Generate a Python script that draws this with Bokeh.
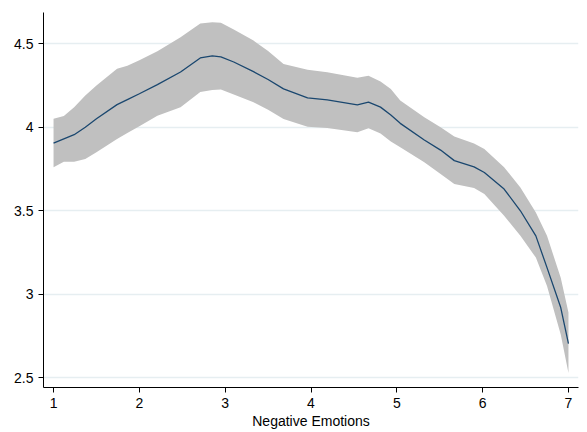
from bokeh.plotting import figure
from bokeh.models import ColumnDataSource, FixedTicker, Range1d, Title
from bokeh.embed import file_html
from bokeh.resources import INLINE

# Data (local polynomial fit with 95% CI)
neg_emotions = [1.0, 1.12, 1.24, 1.37, 1.5, 1.74, 1.86, 2.0, 2.21, 2.48, 2.71, 2.85,
                2.95, 3.1, 3.33, 3.5, 3.68, 3.96, 4.19, 4.54, 4.67, 4.81, 4.93, 5.04,
                5.32, 5.51, 5.67, 5.90, 6.02, 6.25, 6.44, 6.62, 6.75, 6.91, 7.0]
fit = [3.905, 3.93, 3.955, 4.0, 4.05, 4.135, 4.165, 4.2, 4.255, 4.33, 4.414, 4.426,
       4.42, 4.39, 4.332, 4.285, 4.229, 4.175, 4.163, 4.133, 4.15, 4.12, 4.073, 4.023,
       3.923, 3.863, 3.80, 3.763, 3.729, 3.63, 3.50, 3.35, 3.16, 2.921, 2.705]
ci_upper = [4.05, 4.067, 4.12, 4.19, 4.25, 4.35, 4.368, 4.40, 4.454, 4.538, 4.62, 4.628,
            4.624, 4.585, 4.518, 4.455, 4.378, 4.344, 4.328, 4.295, 4.308, 4.274, 4.229, 4.16,
            4.06, 4.0, 3.945, 3.903, 3.869, 3.76, 3.64, 3.49, 3.35, 3.10, 2.891]
ci_lower = [3.76, 3.793, 3.793, 3.81, 3.85, 3.93, 3.965, 4.005, 4.069, 4.12, 4.21, 4.223,
            4.225, 4.195, 4.149, 4.105, 4.049, 4.003, 3.995, 3.969, 3.993, 3.962, 3.915, 3.88,
            3.79, 3.72, 3.66, 3.636, 3.60, 3.47, 3.35, 3.22, 3.05, 2.76, 2.53]
x_ticks = [1, 2, 3, 4, 5, 6, 7]
y_ticks = [2.5, 3, 3.5, 4, 4.5]
x_title = "Negative Emotions"

src = ColumnDataSource(dict(x=neg_emotions, y=fit, lo=ci_lower, hi=ci_upper))

p = figure(width=587, height=432, output_backend="svg", toolbar_location=None,
           x_range=Range1d(0.883, 7.117), y_range=Range1d(2.443, 4.686),
           min_border_left=43, min_border_right=9, min_border_top=12, min_border_bottom=45)
p.outline_line_color = None
p.background_fill_color = "white"
p.border_fill_color = "white"

p.varea(x="x", y1="lo", y2="hi", source=src, fill_color="#C0C0C0", fill_alpha=1.0)
p.line(x="x", y="y", source=src, line_color="#1A476F", line_width=1.3)

FONT = "Liberation Sans"
for ax in (p.xaxis[0], p.yaxis[0]):
    ax.axis_line_color = "black"
    ax.axis_line_width = 1
    ax.major_tick_line_color = "black"
    ax.major_tick_in = 0
    ax.major_tick_out = 5
    ax.minor_tick_line_color = None
    ax.major_label_text_font = FONT
    ax.major_label_text_font_size = "14px"
    ax.major_label_text_color = "black"

p.xaxis.ticker = FixedTicker(ticks=x_ticks)
p.yaxis.ticker = FixedTicker(ticks=y_ticks)
p.yaxis.major_label_orientation = 0
p.xaxis.major_label_standoff = 5
p.yaxis.major_label_standoff = 5

p.add_layout(Title(text=x_title, align="center", text_font=FONT, text_font_size="14px",
                   text_font_style="normal", text_color="black", standoff=0, offset=0),
             "below")

p.xgrid.grid_line_color = None
p.ygrid.grid_line_color = "#E6EEF1"
p.ygrid.grid_line_width = 1.5

open("out.html", "w").write(file_html(p, INLINE))
